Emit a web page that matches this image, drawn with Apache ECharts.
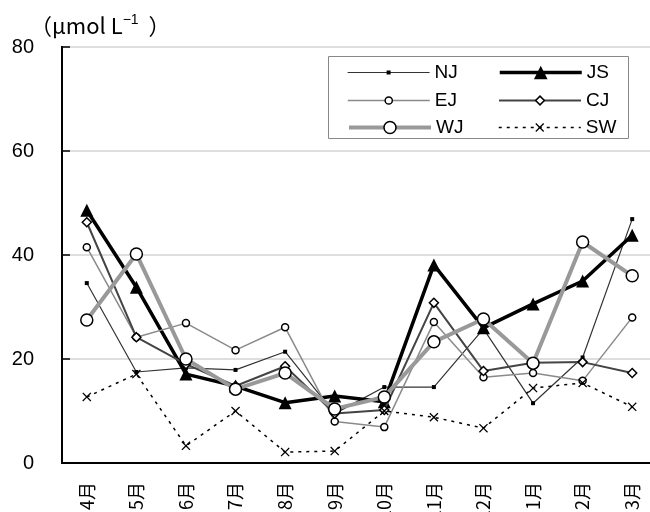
<!DOCTYPE html>
<html>
<head>
<meta charset="utf-8">
<script src="https://cdn.jsdelivr.net/npm/echarts@6/dist/echarts.min.js"></script>
<style>html,body{margin:0;padding:0;background:#fff;}#c{width:650px;height:512px;}</style>
</head>
<body>
<div id="c"></div>
<script>
const categories = ['4月','5月','6月','7月','8月','9月','10月','11月','12月','1月','2月','3月'];
const NJ = [34.6, 17.5, 18.3, 17.9, 21.4, 9.5, 14.6, 14.6, 25.8, 11.5, 20.3, 46.9];
const JS = [48.6, 33.8, 17.1, 14.8, 11.6, 12.9, 11.8, 38.1, 26.0, 30.6, 35.0, 43.8];
const EJ = [41.5, 24.2, 26.9, 21.7, 26.1, 8.0, 6.9, 27.1, 16.5, 17.3, 15.8, 28.0];
const CJ = [46.3, 24.2, 19.0, 14.8, 18.6, 9.5, 10.2, 30.8, 17.7, 19.3, 19.4, 17.3];
const WJ = [27.5, 40.2, 20.0, 14.2, 17.3, 10.4, 12.7, 23.3, 27.7, 19.2, 42.5, 36.0];
const SW = [12.7, 17.1, 3.3, 10.0, 2.1, 2.3, 10.0, 8.8, 6.7, 14.4, 15.4, 10.8];
const yTicks = [0, 20, 40, 60, 80];

const FONT = '"Liberation Sans", "Noto Sans CJK JP", sans-serif';
const CJK = '"Noto Sans CJK JP", sans-serif';
const XPATH = 'path://M0,1 L1,0 L5,4 L9,0 L10,1 L6,5 L10,9 L9,10 L5,6 L1,10 L0,9 L4,5 Z';

const styles = {
  NJ: {symbol:'rect', size:4, item:{color:'#000', borderWidth:0}, line:{color:'#333', width:1.2, type:'solid'}},
  JS: {symbol:'triangle', size:13, item:{color:'#000', borderWidth:0}, line:{color:'#000', width:3.5, type:'solid'}},
  EJ: {symbol:'circle', size:7, item:{color:'#fff', borderColor:'#000', borderWidth:1.5}, line:{color:'#8a8a8a', width:1.5, type:'solid'}},
  CJ: {symbol:'diamond', size:9, item:{color:'#fff', borderColor:'#000', borderWidth:1.5}, line:{color:'#444', width:2, type:'solid'}},
  WJ: {symbol:'circle', size:12, item:{color:'#fff', borderColor:'#000', borderWidth:1.5}, line:{color:'#999', width:4, type:'solid'}},
  SW: {symbol:XPATH, size:9, item:{color:'#000', borderWidth:0}, line:{color:'#000', width:1.5, type:[3,5]}}
};
const seriesData = {NJ, JS, EJ, CJ, WJ, SW};
const order = ['NJ','JS','EJ','CJ','WJ','SW'];

const series = order.map((n, i) => ({
  name: n, type: 'line', data: seriesData[n],
  symbol: styles[n].symbol, symbolSize: styles[n].size, showAllSymbol: true,
  itemStyle: styles[n].item, lineStyle: styles[n].line,
  emphasis: {disabled: true}, z: 2 + i, animation: false
}));

const legendPos = {
  NJ: [347, 73, 5], JS: [498, 73, 17],
  EJ: [347, 101, 9], CJ: [498, 101, 11],
  WJ: [347, 128, 15], SW: [498, 128, 11]
};
const legends = order.map(n => ({
  data: [n], left: legendPos[n][0], top: legendPos[n][1] - 10,
  padding: 0, itemWidth: 82, itemHeight: legendPos[n][2], itemGap: 0,
  selectedMode: false,
  textStyle: {fontSize: 19, color: '#000', fontFamily: FONT},
  itemStyle: Object.assign({borderColor:'#000'}, styles[n].item),
  lineStyle: styles[n].line, z: 5
}));

const chart = echarts.init(document.getElementById('c'), null, {renderer: 'canvas'});
chart.setOption({
  backgroundColor: '#fff',
  animation: false,
  grid: {left: 62, top: 47, width: 595, height: 416, outerBoundsMode: 'none', containLabel: false,
         show: true, borderColor: '#000', borderWidth: 2, backgroundColor: 'transparent'},
  legend: legends,
  graphic: [{type: 'rect', left: 328, top: 56, shape: {width: 300, height: 82}, style: {fill: '#fff', stroke: '#888', lineWidth: 1}, z: 1}],
  xAxis: {
    type: 'category', data: categories, boundaryGap: true,
    axisLine: {lineStyle: {color: '#000', width: 2}},
    axisTick: {inside: true, length: 7, lineStyle: {color: '#000', width: 1}},
    axisLabel: {rotate: 90, fontSize: 18, color: '#000', fontFamily: CJK, margin: 19, interval: 0, hideOverlap: false, padding: [0, 0, 9, 0]},
    splitLine: {show: false}
  },
  yAxis: {
    type: 'value', min: yTicks[0], max: yTicks[yTicks.length - 1], interval: 20,
    name: '{n|（μmol L}{s|−1}{n|）}', nameLocation: 'end', nameGap: 7,
    nameTextStyle: {align: 'left', verticalAlign: 'bottom', fontSize: 22, padding: [0, 0, 0, -32],
      rich: {n: {fontSize: 22, color: '#000', fontFamily: CJK}, s: {fontSize: 14, color: '#000', fontFamily: FONT, padding: [0, 10, 11, 0]}}},
    axisLine: {show: true, lineStyle: {color: '#000', width: 2}},
    axisTick: {show: true, inside: true, length: 8, lineStyle: {color: '#000', width: 1.5}},
    axisLabel: {fontSize: 20, color: '#000', fontFamily: FONT, margin: 28},
    splitLine: {show: true, lineStyle: {color: '#dedede', width: 2}}
  },
  series: series
});
</script>
</body>
</html>
